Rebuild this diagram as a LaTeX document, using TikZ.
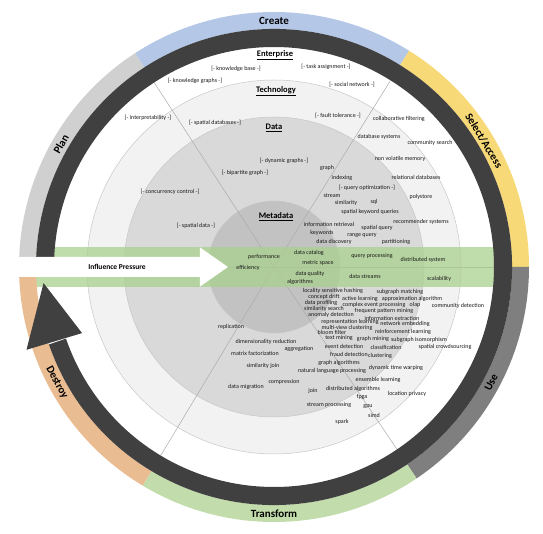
\documentclass[tikz,border=0pt]{standalone}
\usepackage{fontspec}
\setmainfont{Carlito}
\usepackage{xcolor}
\usepackage{tikz}

\definecolor{planGrey}{HTML}{D0D0D0}
\definecolor{createBlue}{HTML}{B4C7E7}
\definecolor{selectGold}{HTML}{F7D978}
\definecolor{useGrey}{HTML}{7F7F7F}
\definecolor{transformGreen}{HTML}{C2DCAB}
\definecolor{destroyOrange}{HTML}{E9BC92}
\definecolor{cycleDark}{HTML}{404040}
\definecolor{bandGreen}{HTML}{A9D18E}

\begin{document}
\begin{tikzpicture}[x=1pt, y=1pt]
            \tikzstyle{term} = [font=\fontsize{6}{7}\selectfont, inner sep=0pt, text=black!90];
            \tikzstyle{layertitle} = [font=\fontsize{8.5}{10}\selectfont\bfseries, inner sep=0pt];
            \tikzstyle{phaselabel} = [font=\fontsize{11}{13}\selectfont\bfseries, inner sep=0pt];
            \tikzstyle{pressure} = [font=\fontsize{7.5}{9}\selectfont\bfseries, inner sep=0pt];
            \tikzstyle{ringline} = [draw=black!22, line width=0.5pt];
            \tikzstyle{spoke} = [draw=black!33, line width=0.5pt];

            \useasboundingbox (-274,-267) rectangle (269,267);

            \filldraw [ringline, fill=black!5] (0,0) circle (187);
            \filldraw [ringline, fill=black!15] (0,0) circle (150);
            \filldraw [ringline, fill=black!24] (0,0) circle (66);

            \draw [spoke] (0,0) -- (0:220);
            \draw [spoke] (0,0) -- (58:220);
            \draw [spoke] (0,0) -- (123:220);
            \draw [spoke] (0,0) -- (180:220);
            \draw [spoke] (0,0) -- (239:220);
            \draw [spoke] (0,0) -- (304:220);

            \fill [bandGreen, opacity=0.75] (-240,-20) rectangle (240,19.5);

            \fill [planGrey] (178:238) arc[start angle=178, end angle=123, radius=238] -- (123:255) arc[start angle=123, end angle=178, radius=255] -- cycle;
            \fill [createBlue] (123:238) arc[start angle=123, end angle=58, radius=238] -- (58:255) arc[start angle=58, end angle=123, radius=255] -- cycle;
            \fill [selectGold] (58:238) arc[start angle=58, end angle=0, radius=238] -- (0:255) arc[start angle=0, end angle=58, radius=255] -- cycle;
            \fill [useGrey] (0:238) arc[start angle=0, end angle=-56, radius=238] -- (-56:255) arc[start angle=-56, end angle=0, radius=255] -- cycle;
            \fill [transformGreen] (-56:238) arc[start angle=-56, end angle=-121, radius=238] -- (-121:255) arc[start angle=-121, end angle=-56, radius=255] -- cycle;
            \fill [destroyOrange] (-121:238) arc[start angle=-121, end angle=-178, radius=238] -- (-178:255) arc[start angle=-178, end angle=-121, radius=255] -- cycle;

            \fill [cycleDark] (178:220) arc[start angle=178, end angle=-161, radius=220] -- (-161:238) arc[start angle=-161, end angle=178, radius=238] -- cycle;
            \fill [cycleDark] (199:203) -- (184:231) -- (198.5:261) -- cycle;

            \fill [white] (-274,10) -- (-74,10) -- (-74,19.5) -- (-46,0) -- (-74,-19.5) -- (-74,-10) -- (-274,-10) -- cycle;
            \node [pressure] (Influence) at (-157,0) {Influence Pressure};

            \node [phaselabel] (Create) at (90:246) {Create};
            \node [phaselabel, rotate=-59] (Select) at (31:245) {Select/Access};
            \node [phaselabel, rotate=62] (Use) at (-28:246) {Use};
            \node [phaselabel] (Transform) at (-90:247) {Transform};
            \node [phaselabel, rotate=-62] (Destroy) at (208:246) {Destroy};
            \node [phaselabel, rotate=60] (Plan) at (150:246) {Plan};

            \begin{scope}[x=1pt, y=-1pt, shift={(-274,-267)}]
            \node [layertitle] (Enterprise) at (275,55) {\underline{Enterprise}};
            \node [layertitle] (Technology) at (276,91) {\underline{Technology}};
            \node [layertitle] (Data) at (274,128) {\underline{Data}};
            \node [layertitle] (Metadata) at (276,217) {\underline{Metadata}};

            \node [term] (K1) at (236,69) {[- knowledge base -]};
            \node [term] (K2) at (326,67) {[- task assignment -]};
            \node [term] (K3) at (195,81) {[- knowledge graphs -]};
            \node [term] (K4) at (352,85) {[- social network -]};
            \node [term] (K5) at (148,118) {[- interpretability -]};
            \node [term] (K6) at (215,123) {[- spatial databases -]};
            \node [term] (K7) at (338,116) {[- fault tolerance -]};
            \node [term] (K8) at (399,119) {collaborative filtering};
            \node [term] (K9) at (379,137) {database systems};
            \node [term] (K10) at (430,143) {community search};
            \node [term] (K11) at (284,161) {[- dynamic graphs -]};
            \node [term] (K12) at (400,159) {non volatile memory};
            \node [term] (K13) at (327,168) {graph};
            \node [term] (K14) at (245,173) {[- bipartite graph -]};
            \node [term] (K15) at (342,178) {indexing};
            \node [term] (K16) at (416,177) {relational databases};
            \node [term] (K17) at (367,188) {[- query optimization -]};
            \node [term] (K18) at (170,192) {[- concurrency control -]};
            \node [term] (K19) at (332,196) {stream};
            \node [term] (K20) at (421,197) {polystore};
            \node [term] (K21) at (346,203) {similarity};
            \node [term] (K22) at (374,202) {sql};
            \node [term] (K23) at (370,212) {spatial keyword queries};
            \node [term] (K24) at (421,222) {recommender systems};
            \node [term] (K25) at (329,224) {information retrieval};
            \node [term] (K26) at (196,226) {[- spatial data -]};
            \node [term] (K27) at (377,228) {spatial query};
            \node [term] (K28) at (322,233) {keywords};
            \node [term] (K29) at (362,236) {range query};
            \node [term] (K30) at (334,242) {data discovery};
            \node [term] (K31) at (396,242) {partitioning};
            \node [term] (K32) at (309,253) {data catalog};
            \node [term] (K33) at (264,257) {performance};
            \node [term] (K34) at (372,256) {query processing};
            \node [term] (K35) at (423,260) {distributed system};
            \node [term] (K36) at (318,263) {metric space};
            \node [term] (K37) at (248,268) {efficiency};
            \node [term] (K38) at (310,274) {data quality};
            \node [term] (K39) at (365,276) {data streams};
            \node [term] (K40) at (439,279) {scalability};
            \node [term] (K41) at (300,282) {algorithms};
            \node [term] (K42) at (333,291) {locality sensitive hashing};
            \node [term] (K43) at (400,292) {subgraph matching};
            \node [term] (K44) at (324,297) {concept drift};
            \node [term] (K45) at (360,299) {active learning};
            \node [term] (K46) at (412,299) {approximation algorithm};
            \node [term] (K47) at (321,303) {data profiling};
            \node [term] (K48) at (374,305) {complex event processing};
            \node [term] (K49) at (415,305) {olap};
            \node [term] (K50) at (458,306) {community detection};
            \node [term] (K51) at (324,309) {similarity search};
            \node [term] (K52) at (384,311) {frequent pattern mining};
            \node [term] (K53) at (331,315) {anomaly detection};
            \node [term] (K54) at (392,318) {information extraction};
            \node [term] (K55) at (350,322) {representation learning};
            \node [term] (K56) at (405,324) {network embedding};
            \node [term] (K57) at (231,327) {replication};
            \node [term] (K58) at (347,328) {multi-view clustering};
            \node [term] (K59) at (332,332) {bloom filter};
            \node [term] (K60) at (403,332) {reinforcement learning};
            \node [term] (K61) at (339,338) {text mining};
            \node [term] (K62) at (373,339) {graph mining};
            \node [term] (K63) at (419,340) {subgraph isomorphism};
            \node [term] (K64) at (266,342) {dimensionality reduction};
            \node [term] (K65) at (344,346) {event detection};
            \node [term] (K66) at (386,347) {classification};
            \node [term] (K67) at (445,347) {spatial crowdsourcing};
            \node [term] (K68) at (299,349) {aggregation};
            \node [term] (K69) at (255,353) {matrix factorization};
            \node [term] (K70) at (349,354) {fraud detection};
            \node [term] (K71) at (380,356) {clustering};
            \node [term] (K72) at (339,363) {graph algorithms};
            \node [term] (K73) at (263,366) {similarity join};
            \node [term] (K74) at (396,368) {dynamic time warping};
            \node [term] (K75) at (332,371) {natural language processing};
            \node [term] (K76) at (378,380) {ensemble learning};
            \node [term] (K77) at (284,382) {compression};
            \node [term] (K78) at (246,387) {data migration};
            \node [term] (K79) at (353,389) {distributed algorithms};
            \node [term] (K80) at (313,391) {join};
            \node [term] (K81) at (407,394) {location privacy};
            \node [term] (K82) at (362,397) {fpga};
            \node [term] (K83) at (329,405) {stream processing};
            \node [term] (K84) at (368,407) {gpu};
            \node [term] (K85) at (374,415) {simd};
            \node [term] (K86) at (342,422) {spark};
            \end{scope}
        \end{tikzpicture}
\end{document}
